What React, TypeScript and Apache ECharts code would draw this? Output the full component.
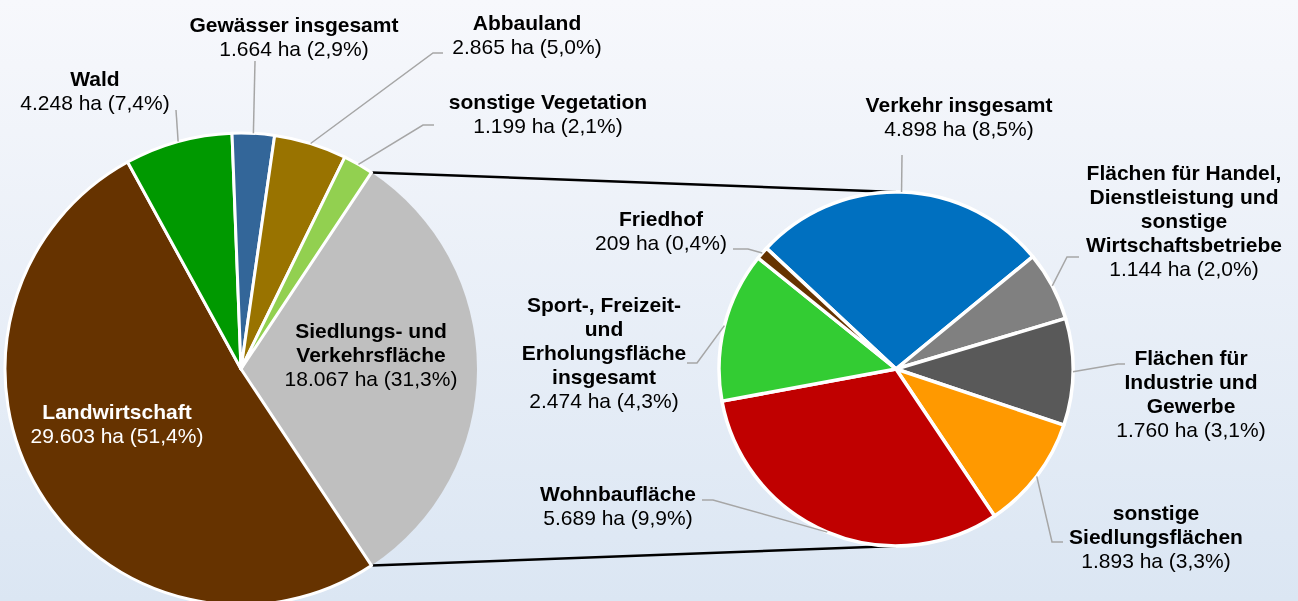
import React, { useEffect, useRef } from 'react';
import * as echarts from 'echarts';

// ---- data ----
const mainNames = ['Siedlungs- und\nVerkehrsfläche', 'Landwirtschaft', 'Wald', 'Gewässer insgesamt', 'Abbauland', 'sonstige Vegetation'];
const mainValues = [18067, 29603, 4248, 1664, 2865, 1199];
const subNames = [
  'Verkehr insgesamt',
  'Flächen für Handel,\nDienstleistung und\nsonstige\nWirtschaftsbetriebe',
  'Flächen für\nIndustrie und\nGewerbe',
  'sonstige\nSiedlungsflächen',
  'Wohnbaufläche',
  'Sport-, Freizeit-\nund\nErholungsfläche\ninsgesamt',
  'Friedhof',
];
const subValues = [4898, 1144, 1760, 1893, 5689, 2474, 209];
const unit = 'ha';

// ---- styles ----
const mainColors = ['#BFBFBF', '#663300', '#009900', '#336699', '#997300', '#92D050'];
const subColors = ['#0070C0', '#808080', '#595959', '#FF9900', '#C00000', '#33CC33', '#663300'];

// ---- layout ----
const W = 1298;
const H = 601;
const mainCenter = [241, 369];
const mainRadius = 236;
const subCenter = [896, 369];
const subRadius = 177;
const subStart = 137;
const mainLabelPos = [[371, 354], [117, 423], [95, 90], [294, 36], [527, 34], [548, 113.5]];
const mainLabelBends: (number[][] | null)[] = [null, null, [[176, 110]], [[255, 61]], [[433, 53], [443, 53]], [[423, 125], [434, 125]]];
const mainLabelColors = ['#000', '#fff', '#000', '#000', '#000', '#000'];
const subLabelPos = [[959, 116.5], [1184, 220], [1191, 393], [1156, 536], [618, 505.5], [604, 352.5], [661, 230]];
const subLabelBends = [[[902, 155]], [[1067, 257], [1079, 257]], [[1118, 364], [1125, 364]], [[1052, 542], [1063, 542]], [[713, 500], [702, 500]], [[697, 363], [687, 363]], [[748, 249], [733, 249]]];

const FONT = '"Liberation Sans", Arial, sans-serif';
const FS = 21;
const LH = 24;

const sum = (a: number[]) => a.reduce((s, v) => s + v, 0);
const fmtNum = (v: number) => String(v).replace(/\B(?=(\d{3})+(?!\d))/g, '.');
const total = sum(mainValues);
const fmtPct = (v: number) => (v / total * 100).toFixed(1).replace('.', ',');

const mainStart = (mainValues[0] / total) * 360 / 2;

function midPoints(values: number[], start: number, c: number[], r: number) {
  const t = sum(values);
  let acc = 0;
  return values.map((v) => {
    const mid = start - (acc + v / 2) / t * 360;
    acc += v;
    const a = mid * Math.PI / 180;
    return [c[0] + r * Math.cos(a), c[1] - r * Math.sin(a)];
  });
}

function labelGraphics(names: string[], values: number[], pos: number[][], colors: string[] | null) {
  const els: any[] = [];
  names.forEach((name, i) => {
    const lines = name.split('\n');
    const all = [...lines.map((l) => ({ t: l, b: true })), { t: `${fmtNum(values[i])} ${unit} (${fmtPct(values[i])}%)`, b: false }];
    const n = all.length;
    all.forEach((ln, k) => {
      els.push({
        type: 'text',
        z: 20,
        silent: true,
        style: {
          text: ln.t,
          x: pos[i][0],
          y: pos[i][1] + (k - (n - 1) / 2) * LH,
          align: 'center',
          verticalAlign: 'middle',
          fill: colors ? colors[i] : '#000',
          fontFamily: FONT,
          fontSize: FS,
          fontWeight: ln.b ? 'bold' : 'normal',
        },
      });
    });
  });
  return els;
}

function leaderGraphics(edges: number[][], bends: (number[][] | null)[]) {
  const els: any[] = [];
  bends.forEach((b, i) => {
    if (!b) return;
    els.push({
      type: 'polyline',
      z: 15,
      silent: true,
      shape: { points: [edges[i], ...b] },
      style: { stroke: '#A6A6A6', lineWidth: 1.5, fill: null },
    });
  });
  return els;
}

export default function App() {
  const ref = useRef<HTMLDivElement>(null);
  useEffect(() => {
    if (!ref.current) return;
    const chart = echarts.init(ref.current, undefined, { renderer: 'svg' });

    const mainEdges = midPoints(mainValues, mainStart, mainCenter, mainRadius);
    const subEdges = midPoints(subValues, subStart, subCenter, subRadius);

    const a = mainStart * Math.PI / 180;
    const pTop = [mainCenter[0] + mainRadius * Math.cos(a), mainCenter[1] - mainRadius * Math.sin(a)];
    const pBot = [mainCenter[0] + mainRadius * Math.cos(a), mainCenter[1] + mainRadius * Math.sin(a)];
    const qTop = [subCenter[0], subCenter[1] - subRadius];
    const qBot = [subCenter[0], subCenter[1] + subRadius];

    const graphic: any[] = [
      {
        type: 'rect',
        z: -10,
        silent: true,
        shape: { x: 0, y: 0, width: W, height: H },
        style: {
          fill: new echarts.graphic.LinearGradient(0, 0, 0, 1, [
            { offset: 0, color: '#F7F8FC' },
            { offset: 1, color: '#DBE6F3' },
          ]),
        },
      },
      { type: 'line', z: 1, silent: true, shape: { x1: pTop[0], y1: pTop[1], x2: qTop[0], y2: qTop[1] }, style: { stroke: '#000', lineWidth: 2.5 } },
      { type: 'line', z: 1, silent: true, shape: { x1: pBot[0], y1: pBot[1], x2: qBot[0], y2: qBot[1] }, style: { stroke: '#000', lineWidth: 2.5 } },
      ...leaderGraphics(mainEdges, mainLabelBends),
      ...leaderGraphics(subEdges, subLabelBends),
      ...labelGraphics(mainNames, mainValues, mainLabelPos, mainLabelColors),
      ...labelGraphics(subNames, subValues, subLabelPos, null),
    ];

    chart.setOption({
      animation: false,
      graphic,
      series: [
        {
          type: 'pie',
          z: 5,
          center: mainCenter,
          radius: [0, mainRadius],
          startAngle: mainStart,
          clockwise: true,
          silent: true,
          emphasis: { disabled: true },
          label: { show: false },
          labelLine: { show: false },
          itemStyle: { borderColor: '#FFFFFF', borderWidth: 3 },
          data: mainValues.map((v, i) => ({
            value: v,
            name: mainNames[i].replace('\n', ' '),
            itemStyle: { color: mainColors[i], borderWidth: i === 0 ? 0 : 3 },
          })),
        },
        {
          type: 'pie',
          z: 5,
          center: subCenter,
          radius: [0, subRadius],
          startAngle: subStart,
          clockwise: true,
          silent: true,
          emphasis: { disabled: true },
          label: { show: false },
          labelLine: { show: false },
          itemStyle: { borderColor: '#FFFFFF', borderWidth: 3.5 },
          data: subValues.map((v, i) => ({
            value: v,
            name: subNames[i].replace(/\n/g, ' '),
            itemStyle: { color: subColors[i] },
          })),
        },
      ],
    });
    return () => chart.dispose();
  }, []);

  return <div ref={ref} style={{ position: 'fixed', left: 0, top: 0, width: W, height: H }} />;
}
